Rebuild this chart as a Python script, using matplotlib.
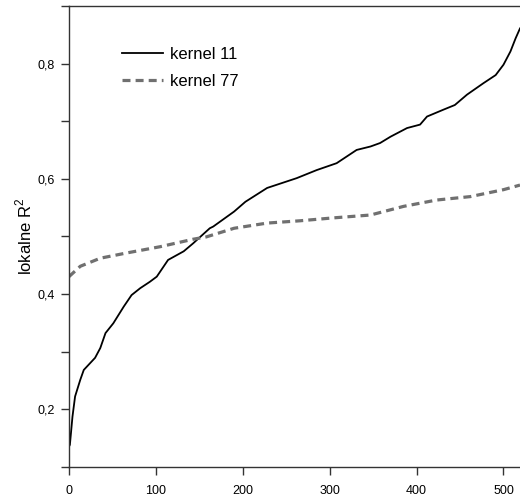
import matplotlib
matplotlib.use("Agg")
import matplotlib.pyplot as plt
from matplotlib.ticker import FixedLocator, FuncFormatter

plt.rcParams['font.family'] = ['Liberation Sans', 'DejaVu Sans']
plt.rcParams['mathtext.fontset'] = 'custom'
plt.rcParams['mathtext.rm'] = 'Liberation Sans'

# kernel 11
x_k11 = [0, 1, 4, 7, 13, 17, 30, 36, 42, 51, 63, 72, 82, 93, 101, 114, 132, 143,
         151, 162, 166, 190, 203, 228, 262, 285, 308, 331, 347, 358, 370, 389,
         404, 412, 431, 444, 458, 477, 491, 500, 508, 514, 519]
y_k11 = [0.135, 0.138, 0.187, 0.222, 0.251, 0.268, 0.289, 0.306, 0.332, 0.349,
         0.378, 0.398, 0.410, 0.421, 0.430, 0.459, 0.474, 0.488, 0.499, 0.514,
         0.517, 0.543, 0.560, 0.584, 0.601, 0.615, 0.627, 0.650, 0.656, 0.662,
         0.673, 0.688, 0.694, 0.708, 0.720, 0.728, 0.746, 0.766, 0.780, 0.798,
         0.821, 0.844, 0.861]

# kernel 77
x_k77 = [0, 13, 36, 66, 105, 143, 158, 190, 228, 266, 304, 347, 385, 423, 462, 500, 519]
y_k77 = [0.430, 0.448, 0.462, 0.471, 0.482, 0.495, 0.499, 0.514, 0.523, 0.527,
         0.532, 0.537, 0.552, 0.563, 0.569, 0.581, 0.589]

x_ticks = [0, 100, 200, 300, 400, 500]
y_ticks = [0.1, 0.2, 0.3, 0.4, 0.5, 0.6, 0.7, 0.8, 0.9]
y_labeled = [0.2, 0.4, 0.6, 0.8]

fig = plt.figure(figsize=(5.2, 4.97), dpi=100)
ax = fig.add_axes([0.1327, 0.061, 0.8673, 0.927])

ax.plot(x_k11, y_k11, color='black', linewidth=1.3, label='kernel 11')
ax.plot(x_k77, y_k77, color='#707070', linewidth=2.3, linestyle=(0, (2.5, 1.6)),
        label='kernel 77')

ax.set_xlim(0, 519)
ax.set_ylim(0.1, 0.9)
ax.xaxis.set_major_locator(FixedLocator(x_ticks))
ax.yaxis.set_major_locator(FixedLocator(y_ticks))


def fmt_y(v, pos):
    for t in y_labeled:
        if abs(v - t) < 1e-6:
            return f"{v:.1f}".replace('.', ',')
    return ''


ax.yaxis.set_major_formatter(FuncFormatter(fmt_y))
ax.tick_params(direction='out', length=5.5, width=1, color='#333333',
               labelsize=9)
ax.tick_params(axis='y', pad=5)
ax.tick_params(axis='x', pad=8)

for s in ['left', 'bottom', 'top']:
    ax.spines[s].set_color('#333333')
    ax.spines[s].set_linewidth(1)
ax.spines['right'].set_visible(False)

ax.set_ylabel('lokalne R$^2$', fontsize=12, labelpad=2)

ax.legend(loc='upper left', bbox_to_anchor=(0.1175, 0.912), frameon=False,
          fontsize=12, handlelength=2.46, handletextpad=0.42, labelspacing=0.72,
          borderpad=0, borderaxespad=0)

fig.savefig('out.png', dpi=100)
